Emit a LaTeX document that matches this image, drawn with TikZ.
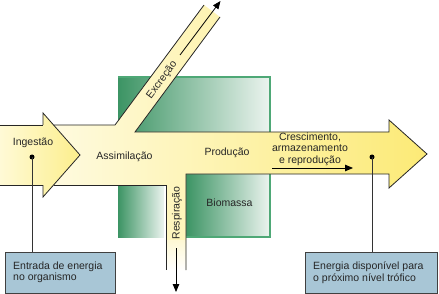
\documentclass[tikz,border=0pt]{standalone}
\usepackage{fontspec}
\setmainfont{Liberation Sans}
\usetikzlibrary{arrows.meta}
\definecolor{gdark}{RGB}{60,148,100}
\definecolor{glight}{RGB}{236,244,239}
\definecolor{gborder}{RGB}{78,168,118}
\definecolor{bandA}{RGB}{255,253,238}
\definecolor{bandB}{RGB}{254,248,212}
\definecolor{bandC}{RGB}{252,234,118}
\definecolor{ingA}{RGB}{255,250,214}
\definecolor{ingB}{RGB}{252,238,140}
\definecolor{boxblue}{RGB}{168,198,214}
\begin{document}
\begin{tikzpicture}[x=1pt,y=-1pt,
  outl/.style={draw=black!85, line width=0.8pt, line join=miter},
  lbl/.style={font=\fontsize{10.5}{11.5}\selectfont, text=black!85, inner sep=0pt},
  conn/.style={draw=black!80, line width=0.8pt},
  infobox/.style={draw=black!75, line width=0.9pt, fill=boxblue, anchor=north west, inner sep=0pt},
  dotnode/.style={circle, fill=black, inner sep=0pt, minimum size=5pt},
  arr/.style={-{Triangle[length=8pt,width=6.5pt]}, line width=0.8pt, draw=black}]
\useasboundingbox (0,0) rectangle (439,294);

% green biomass block
\shade[left color=gdark, right color=glight] (118,77) rectangle (270,134);
\shade[left color=gdark, right color=glight] (118,184) rectangle (164,237);
\shade[left color=gdark, right color=glight] (186,173) rectangle (270,237);
\draw[gborder, line width=1.4pt] (118,77) -- (270,77) -- (270,133);
\draw[gborder, line width=1.4pt] (270,173) -- (270,237) -- (186,237);

% coordinates of the energy flow band
\coordinate (tl) at (0,125);
\coordinate (jl) at (115,125);
\coordinate (el) at (204,5);
\coordinate (er) at (220,17);
\coordinate (jr) at (135,132);
\coordinate (nt) at (389,132);
\coordinate (ht) at (389,120);
\coordinate (tip) at (427,154);
\coordinate (hb) at (389,188);
\coordinate (nb) at (389,174);
\coordinate (cr) at (186,174);
\coordinate (crb) at (186,270);
\coordinate (clb) at (166,270);
\coordinate (cl) at (166,185);
\coordinate (bl) at (0,185);

% band fill
\shade[left color=bandA, middle color=bandB, right color=bandC]
  (tl) -- (jl) -- (el) -- (er) -- (jr) -- (nt) -- (ht) -- (tip) -- (hb) -- (nb)
  -- (cr) -- (crb) -- (clb) -- (cl) -- (bl) -- cycle;
% fade at channel bottom
\shade[top color=bandB, bottom color=white] (166.4,240) rectangle (185.6,270.5);

% ingestion arrow fill
\shade[left color=ingA, right color=ingB]
  (0,125) -- (43,125) -- (43,113) -- (80,155) -- (43,197) -- (43,185) -- (0,185) -- cycle;

% outlines
\draw[outl] (tl) -- (43,125);
\draw[outl] (53.6,125) -- (jl) -- (el);
\draw[outl] (er) -- (jr) -- (nt) -- (ht) -- (tip) -- (hb) -- (nb) -- (cr) -- (crb);
\draw[outl] (bl) -- (43,185);
\draw[outl] (53.6,185) -- (cl) -- (clb);
\draw[outl] (43,125) -- (43,113) -- (80,155) -- (43,197) -- (43,185);

% flow arrows
\coordinate (exA) at (180,55);
\coordinate (exB) at (220.5,1);
\draw[arr] (exA) -- (exB);
\coordinate (reA) at (176,248);
\coordinate (reB) at (176,292);
\draw[arr] (reA) -- (reB);
\coordinate (prA) at (272,168);
\coordinate (prB) at (353,168);
\draw[arr] (prA) -- (prB);

% labels
\node[lbl] (ing) at (33,143) {Ingestão};
\node[lbl] (ass) at (124.5,157) {Assimilação};
\node[lbl] (pro) at (227,153) {Produção};
\node[lbl, align=center] (cre) at (310,149) {Crescimento,\\armazenamento\\e reprodução};
\node[lbl, rotate=53.4] (exc) at (162,80) {Excreção};
\node[lbl, rotate=90] (res) at (177,213) {Respiração};
\node[lbl] (bio) at (229.5,203) {Biomassa};

% info boxes
\node[infobox, minimum width=110pt, minimum height=41pt] (boxL) at (5,252) {};
\node[infobox, minimum width=132pt, minimum height=41pt] (boxR) at (305,252) {};
\node[lbl, align=left, anchor=west] (txtL) at (13,272.5) {Entrada de energia\\no organismo};
\node[lbl, align=left, anchor=west] (txtR) at (313,272.5) {Energia disponível para\\o próximo nível trófico};

% dots and leaders
\node[dotnode] (dotL) at (32,157) {};
\node[dotnode] (dotR) at (372,157) {};
\draw[conn] (dotL.center) -- (dotL.center |- boxL.north);
\draw[conn] (dotR.center) -- (dotR.center |- boxR.north);
\end{tikzpicture}
\end{document}
